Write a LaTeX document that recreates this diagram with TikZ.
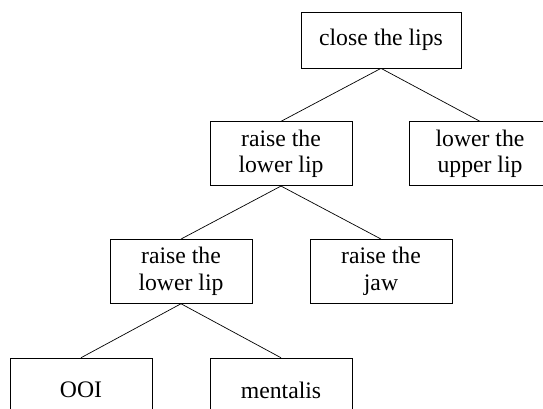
\documentclass[tikz,border=0pt]{standalone}
\usepackage{fontspec}
\setmainfont{Liberation Serif}
\usepackage{tikz}
\usetikzlibrary{positioning}

\begin{document}
\begin{tikzpicture}[
        x=1pt, y=1pt,
        node distance=53pt,
        box/.style={rectangle, draw, line width=0.7pt, minimum height=64pt, minimum width=142pt, inner sep=0pt, align=center, font=\fontsize{23.7}{26.7}\selectfont},
        link/.style={line width=0.7pt}
    ]
        \useasboundingbox (0,0) rectangle (543,408);

        % Top goal
        \node[box, minimum width=160pt, minimum height=56pt] (lips) at (381,368) {close the lips};

        % Second level
        \node[box, below=of lips, xshift=-100pt] (lowerlipA) {raise the\\lower lip};
        \node[box, below=of lips, xshift=99pt] (upperlip) {lower the\\upper lip};

        % Third level
        \node[box, below=of lowerlipA, xshift=-100pt] (lowerlipB) {raise the\\lower lip};
        \node[box, below=of lowerlipA, xshift=100pt] (jaw) {raise the\\jaw};

        % Muscles
        \node[box, below=54pt of lowerlipB, xshift=-100pt] (ooi) {OOI};
        \node[box, below=54pt of lowerlipB, xshift=100pt] (mentalis) {mentalis};

        % Links
        \draw[link] (lips.south) -- (lowerlipA.north);
        \draw[link] (lips.south) -- (upperlip.north);
        \draw[link] (lowerlipA.south) -- (lowerlipB.north);
        \draw[link] (lowerlipA.south) -- (jaw.north);
        \draw[link] (lowerlipB.south) -- (ooi.north);
        \draw[link] (lowerlipB.south) -- (mentalis.north);

    \end{tikzpicture}
\end{document}
